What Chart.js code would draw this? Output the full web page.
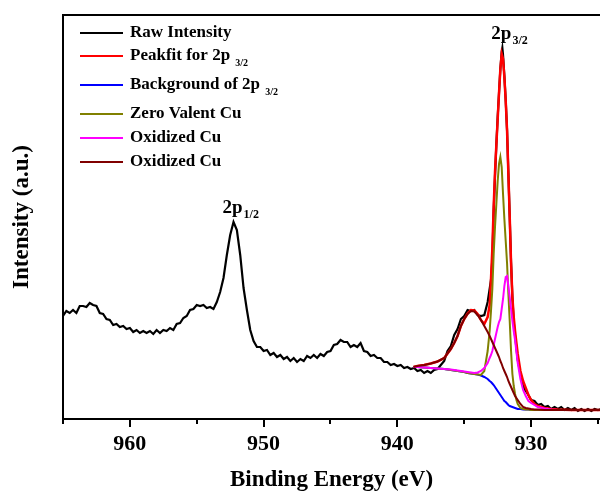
<!DOCTYPE html>
<html><head><meta charset="utf-8">
<script src="https://cdn.jsdelivr.net/npm/chart.js@4.4.1/dist/chart.umd.min.js"></script>
<style>html,body{margin:0;padding:0;background:#fff;overflow:hidden}#wrap{width:600px;height:492px;position:relative}</style>
</head><body><div id="wrap"><canvas id="c" width="600" height="492"></canvas></div>
<script>
// ---- data (binding energy in eV, intensity in arbitrary units) ----
const rawEnergy = [
 965.00,964.75,964.50,964.25, 964.00,963.75,963.50,963.25, 963.00,962.75,962.50,962.25, 962.00,961.75,961.50,961.25,
 961.00,960.75,960.50,960.25, 960.00,959.75,959.50,959.25, 959.00,958.75,958.50,958.25, 958.00,957.75,957.50,957.25,
 957.00,956.75,956.50,956.25, 956.00,955.75,955.50,955.25, 955.00,954.75,954.50,954.25, 954.00,953.75,953.50,953.25,
 953.00,952.75,952.50,952.25, 952.00,951.75,951.50,951.25, 951.00,950.75,950.50,950.25, 950.00,949.75,949.50,949.25,
 949.00,948.75,948.50,948.25, 948.00,947.75,947.50,947.25, 947.00,946.75,946.50,946.25, 946.00,945.75,945.50,945.25,
 945.00,944.75,944.50,944.25, 944.00,943.75,943.50,943.25, 943.00,942.75,942.50,942.25, 942.00,941.75,941.50,941.25,
 941.00,940.75,940.50,940.25, 940.00,939.75,939.50,939.25, 939.00,938.75,938.50,938.25, 938.00,937.75,937.50,937.25,
 937.00,936.75,936.50,936.25, 936.00,935.75,935.50,935.25, 935.00,934.75,934.50,934.25, 934.00,933.75,933.50,933.25,
 933.00,932.90,932.80,932.70,932.60,932.50,932.40,932.30,932.20,932.15,932.10,932.00,931.90,931.80,931.70,931.60,931.50,931.40,931.30,931.20,
 931.00,930.75,930.50,930.25, 930.00,929.75,929.50,929.25, 929.00,928.75,928.50,928.25, 928.00,927.75,927.50,927.25,
 927.00,926.75,926.50,926.25, 926.00,925.75,925.50,925.25, 925.00,924.75
];
const rawIntensity = [
 103,108,106,109, 106,113,113,112, 116,114,113,106, 105,100,99,94,
 95,92,93,90, 91,87,89,86, 88,86,88,85, 89,86,89,88,
 91,89,95,96, 101,103,109,110, 114,113,114,111, 112,110,117,127,
 141,164,184,197, 189,164,131,109, 89,78,72,72, 68,69,64,66,
 62,64,60,62, 58,61,57,60, 58,63,61,64, 61,65,63,67,
 68,74,75,79, 77,77,72,74, 72,76,68,67, 63,64,61,61,
 57,57,54,55, 53,54,51,52, 50,51,48,49, 46,48,46,49,
 50,54,58,68, 73,84,90,100, 103,109,108,109, 104,103,104,117,
 139,160,208,243,274,302,326,350,367,371,364,343,319,289,246,202,157,122,97,83,
 59,42,30,25, 19,18,14,15, 12,13,10,12, 10,12,9,11,
 9,11,8,10, 8,10,8,10, 9,10
];
const fitEnergy = [
 938.8,938.5,938.0,937.5,937.0,936.5,936.0,935.75,935.5,935.25,935.0,934.75,934.5,934.25,934.0,933.75,933.5,933.25,
 933.1,933.0,932.9,932.8,932.7,932.6,932.5,932.4,932.3,932.2,932.1,932.0,931.9,931.8,931.7,931.6,931.5,931.4,931.3,
 931.2,931.1,931.0,930.8,930.6,930.4,930.2,930.0,929.75,929.5,929.0,928.5,928.0,927.0,926.0,924.8
];
const peakfit = [
 52,53,54,55.5,57.5,61,70,76,83,93,100,105.5,109,108.5,105,99,95,102,
 114,140,170,212,247,274,300,326,350,365,360,342,318,289,245,202,156,122,102,
 88,76,65,48,38,31,24,19,15,13,11,10,9.5,9,9,9
];
const background = [
 52,52,51.5,51,50.5,50,49,48.5,48,47.5,47,46,45.5,45,44.5,43.5,42,40,
 38,37,35.5,34,32,30,28,26,24,22,20,18,17,15.5,14,13,12.5,12,11.5,
 11,10.5,10,10,9.5,9.5,9.5,9,9,9,9,9,9,9,9,9
];
const zeroValent = [
 52,52,51.5,51,50.5,50,49,48.5,48,47.5,47,46,45.5,45,44.5,44,48,68,
 88,108,130,165,192,215,238,255,262,252,225,200,178,156,125,98,68,45,33,
 25,19,15,11,10,9.5,9.5,9,9,9,9,9,9,9,9,9
];
const oxidizedA = [
 52,52,51.5,51,50.5,50,49.5,49,48.5,48,47.5,47,46.5,46,46.5,48,51,56,
 61,64,68,74,80,86,92,97,100,110,120,133,142,143,133,122,110,98,88,
 79,67,56,40,29,23,18,16,14,12,10.5,9.5,9,9,9,9
];
const oxidizedB = [
 52,53,54,55.5,57.5,61,70,76,83,93,100,105,108,107.5,104,99,93,87,
 83,80,77,74,71,68,65,62,58,55,51,48,45,42,38,35,32,29,26,
 23,21,19,15,12,11,10.5,10,9.5,9.5,9,9,9,9,9,9
];
const xMajorTicks = [960, 950, 940, 930];
const xMinorTicks = [965, 955, 945, 935, 925];
const seriesNames = ['Raw Intensity', 'Peakfit for 2p', 'Background of 2p', 'Zero Valent Cu', 'Oxidized Cu', 'Oxidized Cu'];
const seriesSubs = ['', '3/2', '3/2', '', '', ''];
const peakLabelEnergy = [932.15, 952.25];
const peakLabelIntensity = [371, 197];
const peakLabelSubs = ['3/2', '1/2'];

// ---- styles / layout ----
const FONT = "'Liberation Serif','Times New Roman',serif";
const colors = ['#000000', '#ff0000', '#0000ff', '#808000', '#ff00ff', '#800000'];
const legendLayout = { lineX1: 80, lineX2: 123, textX: 130, rowY: [33, 56, 85, 114, 138, 162] };

const zip = (xs, ys) => xs.map((v, i) => ({ x: v, y: ys[i] }));
const seriesData = [
  zip(rawEnergy, rawIntensity), zip(fitEnergy, peakfit), zip(fitEnergy, background),
  zip(fitEnergy, zeroValent), zip(fitEnergy, oxidizedA), zip(fitEnergy, oxidizedB)
];
const datasets = seriesData.map((d, i) => ({
  label: seriesNames[i] + (seriesSubs[i] ? ' ' + seriesSubs[i] : ''),
  data: d, borderColor: colors[i], backgroundColor: colors[i],
  borderWidth: i === 1 ? 2.5 : (i === 0 ? 2.2 : 2), pointRadius: 0, tension: 0, fill: false,
  order: 6 - i
}));

const decor = {
  id: 'decor',
  afterDatasetsDraw(chart) {
    const { ctx, chartArea: a, scales: { x, y } } = chart;
    ctx.save();
    ctx.strokeStyle = '#000'; ctx.lineWidth = 2; ctx.lineCap = 'butt';
    ctx.beginPath();
    ctx.moveTo(a.right + 5, a.top); ctx.lineTo(a.left, a.top);
    ctx.lineTo(a.left, a.bottom); ctx.lineTo(a.right + 5, a.bottom);
    ctx.stroke();
    ctx.beginPath();
    xMajorTicks.forEach(v => { const p = Math.round(x.getPixelForValue(v)); ctx.moveTo(p, a.bottom); ctx.lineTo(p, a.bottom + 8); });
    xMinorTicks.forEach(v => { const p = Math.round(x.getPixelForValue(v)); ctx.moveTo(p, a.bottom); ctx.lineTo(p, a.bottom + 5); });
    ctx.stroke();

    // legend
    ctx.textBaseline = 'middle'; ctx.textAlign = 'left';
    legendLayout.rowY.forEach((ry, i) => {
      ctx.strokeStyle = colors[i]; ctx.lineWidth = 2;
      ctx.beginPath(); ctx.moveTo(legendLayout.lineX1, ry); ctx.lineTo(legendLayout.lineX2, ry); ctx.stroke();
      ctx.fillStyle = '#000';
      ctx.font = 'bold 17px ' + FONT;
      ctx.fillText(seriesNames[i], legendLayout.textX, ry);
      if (seriesSubs[i]) {
        const w = ctx.measureText(seriesNames[i] + ' ').width;
        ctx.font = 'bold 10px ' + FONT;
        ctx.fillText(seriesSubs[i], legendLayout.textX + w + 1, ry + 7);
      }
    });

    // peak labels
    ctx.textBaseline = 'alphabetic';
    peakLabelEnergy.forEach((e, i) => {
      const px = x.getPixelForValue(e) - 11;
      const py = y.getPixelForValue(peakLabelIntensity[i]) - 9;
      ctx.font = 'bold 19px ' + FONT;
      ctx.fillStyle = '#000';
      ctx.fillText('2p', px, py);
      const w = ctx.measureText('2p').width;
      ctx.font = 'bold 12px ' + FONT;
      ctx.fillText(peakLabelSubs[i], px + w + 1, py + 5);
    });
    ctx.restore();
  }
};

new Chart(document.getElementById('c'), {
  type: 'line',
  data: { datasets },
  options: {
    responsive: false, animation: false, devicePixelRatio: 1,
    layout: { padding: { top: 15, left: 0, right: 0, bottom: 0 } },
    plugins: { legend: { display: false }, tooltip: { enabled: false } },
    elements: { point: { radius: 0 } },
    scales: {
      x: {
        type: 'linear', reverse: true, min: 924.85, max: 965,
        afterBuildTicks: s => { s.ticks = xMajorTicks.map(v => ({ value: v })); },
        afterFit: s => { s.height = 73; },
        grid: { display: false, drawTicks: false }, border: { display: false },
        ticks: { color: '#000', padding: 12, maxRotation: 0, autoSkip: false,
                 font: { family: FONT, size: 22, weight: 'bold' }, callback: v => String(v) },
        title: { display: true, text: 'Binding Energy (eV)', color: '#000',
                 font: { family: FONT, size: 23, weight: 'bold', lineHeight: 1 }, padding: { top: 0, bottom: 0 } }
      },
      y: {
        type: 'linear', min: 0, max: 404,
        afterFit: s => { s.width = 63; },
        ticks: { display: false }, grid: { display: false, drawTicks: false }, border: { display: false },
        title: { display: true, text: 'Intensity (a.u.)', color: '#000',
                 font: { family: FONT, size: 23, weight: 'bold', lineHeight: 1 }, padding: { top: 10.5, bottom: 0 } }
      }
    }
  },
  plugins: [decor]
});
</script>
</body></html>
